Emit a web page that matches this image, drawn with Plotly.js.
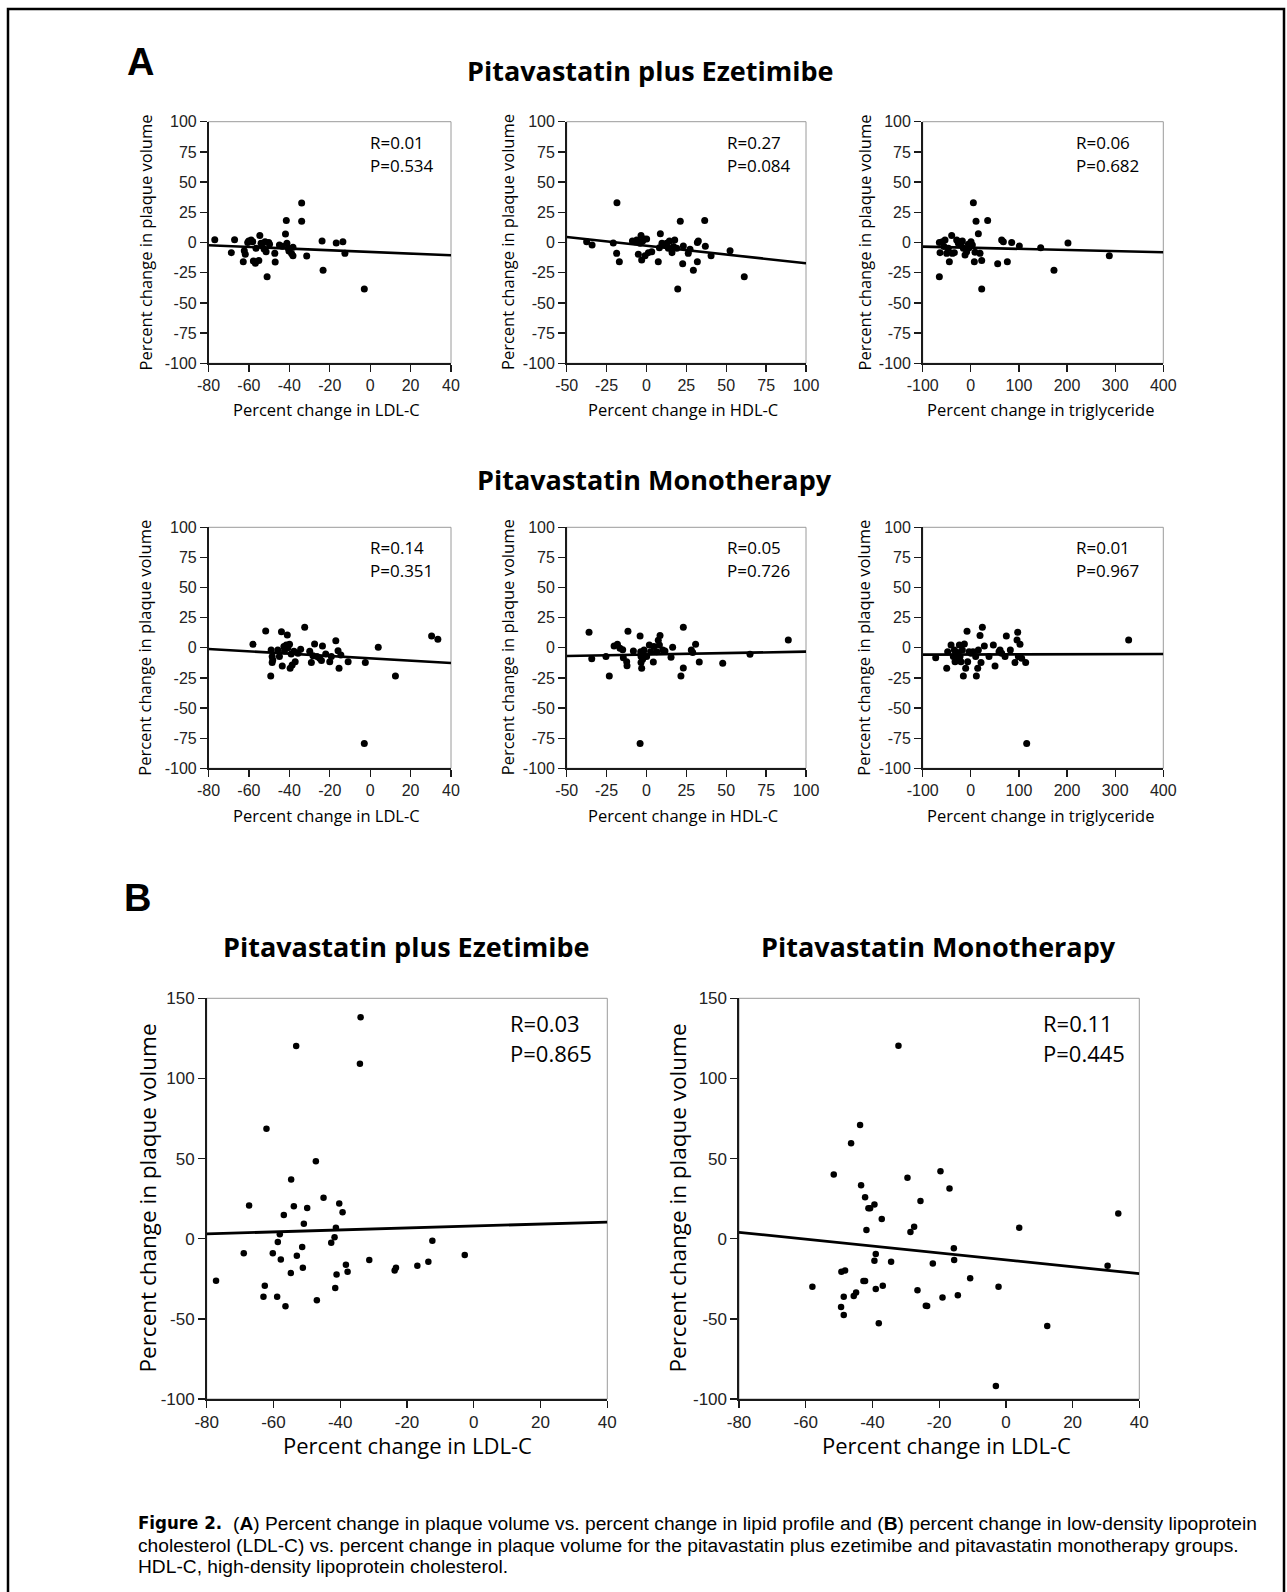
<!DOCTYPE html>
<html>
<head>
<meta charset="utf-8">
<script src="https://cdn.plot.ly/plotly-3.0.1.min.js"></script>
<style>html,body{margin:0;padding:0;background:#fff;}#chart{width:1287px;height:1592px;}</style>
</head>
<body>
<div id="chart"></div>
<script>
// ---------------- DATA ----------------
// Panel A, Pitavastatin plus Ezetimibe
const ezeLdlX = [-76.9,-68.7,-67.1,-62.8,-62.3,-61.8,-60.6,-60.1,-58.9,-58.1,-57.8,-56.8,-56.5,-55.1,-54.6,-54.0,-53.5,-52.5,-52.0,-51.5,-51.0,-50.2,-49.8,-47.2,-47.0,-44.9,-43.5,-41.9,-41.5,-41.2,-40.5,-40.2,-38.9,-38.2,-38.2,-33.9,-33.9,-31.4,-23.8,-23.3,-16.8,-13.5,-12.5,-2.9];
const ezeLdlY = [2.3,-8.4,2.3,-15.9,-6.8,-9.8,-0.1,1.2,2.1,0.7,-15.3,-17.2,-4.8,-14.8,5.7,-0.7,-2.6,-5.4,0.7,-7.6,-28.3,0.1,-1.5,-9.0,-16.1,-2.1,-3.2,7.0,18.3,-0.7,-4.8,-7.0,-9.2,-4.0,-10.9,32.7,17.5,-11.2,1.2,-23.0,-0.4,0.7,-9.0,-38.5];
const ezeLdlFitX = [-80, 40];
const ezeLdlFitY = [-2.3, -10.6];

const ezeHdlX = [-37.5,-34.1,-20.8,-18.5,-18.7,-17.0,-8.8,-7.2,-6.1,-5.1,-4.0,-3.4,-3.0,-2.4,-1.5,-0.9,0.1,1.2,3.3,7.4,8.1,8.7,9.7,11.0,12.7,13.7,14.4,16.0,16.9,17.7,19.0,19.6,21.2,22.7,23.1,26.2,27.3,29.4,31.9,31.9,32.5,36.5,36.9,40.5,52.4,61.3];
const ezeHdlY = [0.7,-2.1,-0.4,33.0,-9.0,-15.9,1.2,0.7,2.1,-9.8,-0.7,5.7,-14.5,1.2,2.8,-10.9,2.8,-8.4,-7.6,-15.9,-4.3,7.3,-0.7,-1.5,-0.7,-4.8,1.2,-8.4,-3.4,2.1,-4.8,-38.5,17.5,-17.5,-2.9,-9.0,-5.5,-23.0,0.1,-15.9,1.2,18.3,-3.2,-10.9,-6.8,-28.3];
const ezeHdlFitX = [-50, 100];
const ezeHdlFitY = [4.6, -17.2];

const ezeTgX = [-65.4,-65.4,-64.0,-59.1,-55.7,-53.6,-50.1,-46.7,-44.6,-39.8,-38.4,-34.2,-29.4,-25.9,-22.4,-20.4,-17.6,-15.5,-12.0,-8.6,-5.1,-3.7,0.4,3.2,5.3,7.3,8.7,10.8,15.7,19.1,22.6,22.6,35.0,55.8,64.1,67.6,75.9,84.9,100.8,145.2,172.8,201.9,287.8];
const ezeTgY = [-28.3,0.1,-8.4,0.7,-3.4,2.1,-9.0,-4.8,-15.9,5.7,-9.0,-8.4,2.1,-0.7,0.7,-2.1,1.2,-4.8,-10.3,-7.6,-1.5,-4.3,0.7,-2.1,33.0,-15.9,-8.1,17.5,7.3,-9.0,-14.8,-38.5,18.3,-17.5,2.1,0.7,-15.9,0.1,-2.9,-4.3,-23.0,-0.4,-10.9];
const ezeTgFitX = [-100, 400];
const ezeTgFitY = [-3.4, -8.1];

// Panel A, Pitavastatin Monotherapy
const monoLdlX = [-58.0,-51.7,-49.2,-49.0,-48.5,-48.5,-48.2,-45.7,-44.9,-43.9,-43.5,-42.7,-42.4,-41.5,-41.0,-40.7,-39.9,-39.6,-39.1,-38.6,-37.7,-37.1,-35.7,-34.4,-32.4,-29.9,-29.1,-28.3,-27.5,-26.3,-25.0,-24.1,-23.6,-22.0,-20.0,-19.2,-17.0,-15.9,-15.4,-14.5,-10.9,-2.4,-2.9,4.0,12.5,30.4,33.5];
const monoLdlY = [2.9,13.9,-23.4,-1.8,-7.3,-12.3,-10.1,-1.8,-7.3,13.3,-15.1,1.0,-2.6,2.4,10.6,0.1,2.9,-17.0,-5.1,-14.2,-2.9,-11.5,-4.6,-1.2,17.0,-2.9,-12.3,-6.5,3.2,-7.3,-8.7,-10.6,1.5,-5.1,-11.5,-7.3,5.8,-2.4,-17.0,-6.0,-11.5,-12.3,-79.5,0.4,-23.4,9.8,7.1];
const monoLdlFitX = [-80, 40];
const monoLdlFitY = [-1.0, -12.6];

const monoHdlX = [-36.0,-34.3,-25.4,-23.3,-20.3,-18.2,-16.6,-14.9,-14.5,-12.4,-12.2,-11.6,-8.2,-4.0,-3.6,-3.4,-3.4,-3.0,-2.4,-2.0,-1.5,-4.0,0.1,1.8,2.6,4.3,4.7,6.4,7.4,8.1,8.5,10.2,11.6,15.4,16.4,21.6,23.1,23.1,28.1,29.0,30.8,33.1,47.8,64.9,88.9];
const monoHdlY = [12.9,-9.0,-7.3,-23.4,1.5,2.9,-0.3,-1.7,-8.2,-11.5,-14.8,13.7,-2.6,9.8,-3.2,-7.3,-12.3,-17.0,-9.5,-5.1,-1.8,-79.5,-7.3,2.4,-3.2,-11.8,1.0,-3.2,6.3,2.4,10.3,-1.8,-2.6,-7.9,0.4,-23.4,17.0,-16.7,-1.8,-4.0,2.9,-11.8,-12.9,-5.4,6.5];
const monoHdlFitX = [-50, 100];
const monoHdlFitY = [-6.8, -3.2];

const monoTgX = [-73.0,-50.1,-48.1,-41.1,-36.3,-34.2,-32.8,-29.4,-27.3,-23.8,-22.4,-20.4,-17.6,-15.5,-13.4,-10.7,-7.9,-6.5,-3.7,0.4,4.6,10.1,11.5,14.3,15.7,19.1,21.2,24.0,28.1,37.8,46.8,50.3,58.6,60.7,64.1,71.1,73.8,82.1,91.8,96.0,97.4,98.8,102.2,105.7,114.0,116.1,328.0];
const monoTgY = [-8.2,-17.0,-3.2,2.4,-7.3,-1.8,-11.5,-8.7,-4.0,2.4,-7.3,-11.5,-1.8,-23.4,3.2,-17.0,13.7,-11.5,-3.2,-4.6,-3.2,-7.3,-23.4,-17.0,-1.8,10.3,-12.3,17.0,1.5,-7.3,2.4,-15.1,-3.2,-1.8,-4.6,-7.3,9.8,-1.8,-12.3,6.5,12.9,-7.3,2.9,-8.7,-12.3,-79.5,6.5];
const monoTgFitX = [-100, 400];
const monoTgFitY = [-5.7, -5.1];

// Panel B
const bEzeX = [-77.2,-68.9,-67.3,-63.0,-62.6,-62.1,-60.2,-58.9,-58.7,-58.1,-57.8,-56.9,-56.4,-54.8,-54.7,-53.9,-53.2,-53.0,-51.4,-51.2,-50.9,-49.9,-47.3,-47.0,-45.0,-42.7,-41.7,-41.5,-41.3,-41.1,-40.3,-39.3,-38.3,-37.8,-34.1,-33.9,-31.3,-23.7,-23.3,-16.9,-13.6,-12.4,-2.7];
const bEzeY = [-26.2,-9.1,20.8,-36.2,-29.3,68.6,-9.1,-36.2,-2.0,2.8,-12.9,14.8,-42.2,-21.4,37.0,20.2,120.2,-10.6,-5.2,-18.1,9.3,19.1,48.4,-38.4,25.6,-2.5,0.9,-30.7,6.9,-22.4,21.9,16.5,-16.2,-20.6,109.2,138.1,-13.3,-19.9,-18.1,-16.8,-14.3,-1.2,-10.2];
const bEzeFitX = [-80, 40];
const bEzeFitY = [3.0, 10.4];

const bMonoX = [-58.0,-51.6,-49.3,-49.4,-48.6,-48.6,-48.2,-46.4,-45.6,-44.9,-43.7,-43.4,-42.7,-42.2,-42.2,-41.8,-41.2,-40.7,-39.4,-39.4,-39.0,-39.0,-38.1,-37.2,-36.9,-34.4,-32.2,-29.5,-28.6,-27.5,-26.5,-25.6,-24.0,-23.6,-21.9,-19.6,-19.0,-16.9,-15.6,-15.5,-14.4,-10.7,-3.0,-2.2,4.0,12.4,30.5,33.7];
const bMonoY = [-29.9,40.0,-20.6,-42.6,-36.2,-47.6,-19.9,59.5,-35.7,-33.6,70.9,33.3,-26.4,25.8,-26.4,5.4,19.0,19.0,21.4,-13.7,-9.5,-31.4,-52.8,12.3,-29.3,-14.3,120.4,38.1,4.2,7.5,-32.2,23.5,-41.8,-42.0,-15.4,42.1,-36.6,31.3,-6.0,-13.3,-35.3,-24.7,-91.9,-29.9,6.9,-54.5,-16.8,15.7];
const bMonoFitX = [-80, 40];
const bMonoFitY = [4.0, -21.8];

// Tick labels
const ldlTicks = [-80,-60,-40,-20,0,20,40];
const hdlTicks = [-50,-25,0,25,50,75,100];
const tgTicks = [-100,0,100,200,300,400];
const aYTicks = [-100,-75,-50,-25,0,25,50,75,100];
const bYTicks = [-100,-50,0,50,100,150];
const lbl = arr => arr.map(v => String(v)); // hyphen-minus like the original

// Text
const statsA = [["R=0.01","P=0.534"],["R=0.27","P=0.084"],["R=0.06","P=0.682"],["R=0.14","P=0.351"],["R=0.05","P=0.726"],["R=0.01","P=0.967"]];
const statsB = [["R=0.03","P=0.865"],["R=0.11","P=0.445"]];
const groupTitles = ["Pitavastatin plus Ezetimibe", "Pitavastatin Monotherapy"];
const yTitle = "Percent change in plaque volume";
const xTitlesA = ["Percent change in LDL-C","Percent change in HDL-C","Percent change in triglyceride"];
const captionLines = [
  "<b>Figure 2.</b>",
  "(<b>A</b>) Percent change in plaque volume vs. percent change in lipid profile and (<b>B</b>) percent change in low-density lipoprotein",
  "cholesterol (LDL-C) vs. percent change in plaque volume for the pitavastatin plus ezetimibe and pitavastatin monotherapy groups.",
  "HDL-C, high-density lipoprotein cholesterol."
];

// ---------------- LAYOUT ----------------
const W = 1287, H = 1592;
const px = v => v / W;
const py = v => 1 - v / H;

const TICKFONT = "Liberation Sans, Arial, sans-serif";
const TEXTFONT = "Open Sans, Noto Sans, sans-serif";

// panel geometry (pixels): left, right, top, bottom
const panels = [
  {l:208.5, r:451, t:121.7, b:363.3, xr:[-80,40], xt:ldlTicks, yr:[-100,100], yt:aYTicks, x:ezeLdlX, y:ezeLdlY, fx:ezeLdlFitX, fy:ezeLdlFitY, big:false},
  {l:566.7, r:806, t:121.7, b:363.3, xr:[-50,100], xt:hdlTicks, yr:[-100,100], yt:aYTicks, x:ezeHdlX, y:ezeHdlY, fx:ezeHdlFitX, fy:ezeHdlFitY, big:false},
  {l:922.7, r:1163.3, t:121.7, b:363.3, xr:[-100,400], xt:tgTicks, yr:[-100,100], yt:aYTicks, x:ezeTgX, y:ezeTgY, fx:ezeTgFitX, fy:ezeTgFitY, big:false},
  {l:208.5, r:451, t:527.3, b:768.3, xr:[-80,40], xt:ldlTicks, yr:[-100,100], yt:aYTicks, x:monoLdlX, y:monoLdlY, fx:monoLdlFitX, fy:monoLdlFitY, big:false},
  {l:566.7, r:806, t:527.3, b:768.3, xr:[-50,100], xt:hdlTicks, yr:[-100,100], yt:aYTicks, x:monoHdlX, y:monoHdlY, fx:monoHdlFitX, fy:monoHdlFitY, big:false},
  {l:922.7, r:1163.3, t:527.3, b:768.3, xr:[-100,400], xt:tgTicks, yr:[-100,100], yt:aYTicks, x:monoTgX, y:monoTgY, fx:monoTgFitX, fy:monoTgFitY, big:false},
  {l:206.7, r:607.3, t:998.3, b:1399, xr:[-80,40], xt:ldlTicks, yr:[-100,150], yt:bYTicks, x:bEzeX, y:bEzeY, fx:bEzeFitX, fy:bEzeFitY, big:true},
  {l:739, r:1139.3, t:998.3, b:1399, xr:[-80,40], xt:ldlTicks, yr:[-100,150], yt:bYTicks, x:bMonoX, y:bMonoY, fx:bMonoFitX, fy:bMonoFitY, big:true}
];

const traces = [];
const layout = {
  width: W, height: H,
  margin: {l:0, r:0, t:0, b:0},
  paper_bgcolor: "#fff", plot_bgcolor: "rgba(0,0,0,0)",
  showlegend: false,
  shapes: [], annotations: []
};

panels.forEach((p, i) => {
  const n = i + 1;
  const xa = n === 1 ? "x" : "x" + n;
  const ya = n === 1 ? "y" : "y" + n;
  const xk = n === 1 ? "xaxis" : "xaxis" + n;
  const yk = n === 1 ? "yaxis" : "yaxis" + n;
  const common = {
    showgrid:false, zeroline:false, showline:true, linecolor:"#1a1a1a", linewidth:1.6,
    ticks:"outside", ticklen:7, tickwidth:1.3, tickcolor:"#1a1a1a",
    tickfont:{family:TICKFONT, size: p.big ? 17 : 16, color:"#222"},
    fixedrange:true
  };
  layout[xk] = Object.assign({}, common, {
    domain:[px(p.l), px(p.r)], range:p.xr, anchor:ya,
    tickmode:"array", tickvals:p.xt, ticktext:lbl(p.xt)
  });
  layout[yk] = Object.assign({}, common, {
    domain:[py(p.b), py(p.t)], range:p.yr, anchor:xa,
    tickmode:"array", tickvals:p.yt, ticktext:lbl(p.yt)
  });
  // thin grey frame on top/right
  layout.shapes.push({type:"rect", xref:xa+" domain", yref:ya+" domain", x0:0, x1:1, y0:0, y1:1,
    line:{color:"#9a9a9a", width:1}, layer:"below"});
  traces.push({type:"scatter", mode:"lines", x:p.fx, y:p.fy, xaxis:xa, yaxis:ya,
    line:{color:"#000", width: p.big ? 2.8 : 2.6}, hoverinfo:"skip", cliponaxis:true});
  traces.push({type:"scatter", mode:"markers", x:p.x, y:p.y, xaxis:xa, yaxis:ya,
    marker:{color:"#000", size: p.big ? 6.5 : 7}, cliponaxis:false});
});

const ann = (x, y, text, size, opts) => Object.assign({
  xref:"paper", yref:"paper", x:px(x), y:py(y), text:text, showarrow:false,
  xanchor:"center", yanchor:"middle",
  font:{family:TEXTFONT, size:size, color:"#000"}
}, opts || {});

// Panel letters and group titles
layout.annotations.push(ann(140.5, 62, "<b>A</b>", 38, {font:{family:"Liberation Sans, Arial", size:38, color:"#000"}}));
layout.annotations.push(ann(137.5, 898, "<b>B</b>", 38, {font:{family:"Liberation Sans, Arial", size:38, color:"#000"}}));
layout.annotations.push(ann(650.6, 71, "<b>" + groupTitles[0] + "</b>", 27));
layout.annotations.push(ann(654.7, 479, "<b>" + groupTitles[1] + "</b>", 27));
layout.annotations.push(ann(406, 946, "<b>" + groupTitles[0] + "</b>", 27));
layout.annotations.push(ann(938, 946, "<b>" + groupTitles[1] + "</b>", 27));

// Axis titles (A)
const aYTitleX = [145, 507.5, 864];
const aRowCenters = [242.5, 647.8];
const aXTitleY = [410, 815];
const aColCenters = [329.8, 686.3, 1043];
for (let r = 0; r < 2; r++) {
  for (let c = 0; c < 3; c++) {
    layout.annotations.push(ann(aYTitleX[c], aRowCenters[r], yTitle, 16.5, {textangle:-90}));
    layout.annotations.push(ann(aColCenters[c] - 3, aXTitleY[r], xTitlesA[c], 16.5));
  }
}
// R/P labels (A)
const statX = [368, 725, 1074];
const statY = [[142.7, 165], [547.7, 570]];
for (let r = 0; r < 2; r++) {
  for (let c = 0; c < 3; c++) {
    const s = statsA[r * 3 + c];
    layout.annotations.push(ann(statX[c], statY[r][0], s[0], 17, {xanchor:"left"}));
    layout.annotations.push(ann(statX[c], statY[r][1], s[1], 17, {xanchor:"left"}));
  }
}
// B axis titles and stats
const bYTitleX = [147, 677];
const bXTitleX = [407.5, 946];
for (let c = 0; c < 2; c++) {
  layout.annotations.push(ann(bYTitleX[c], 1198.5, yTitle, 22.5, {textangle:-90}));
  layout.annotations.push(ann(bXTitleX[c], 1445, xTitlesA[0], 22));
}
const bStatX = [508, 1041];
for (let c = 0; c < 2; c++) {
  layout.annotations.push(ann(bStatX[c], 1022.7, statsB[c][0], 22, {xanchor:"left"}));
  layout.annotations.push(ann(bStatX[c], 1053.3, statsB[c][1], 22, {xanchor:"left"}));
}

// Caption
const CAPFONT = "Liberation Sans, Arial, sans-serif";
layout.annotations.push(ann(136, 1522, captionLines[0], 18.5, {xanchor:"left",
  font:{family:"Liberation Sans Narrow, DejaVu Sans Condensed, Liberation Sans", size:18.5, color:"#000"}}));
layout.annotations.push(ann(231, 1523, captionLines[1], 19.2, {xanchor:"left", font:{family:CAPFONT, size:19.2, color:"#000"}}));
layout.annotations.push(ann(136, 1545, captionLines[2], 19.2, {xanchor:"left", font:{family:CAPFONT, size:19.2, color:"#000"}}));
layout.annotations.push(ann(136, 1566, captionLines[3], 19.2, {xanchor:"left", font:{family:CAPFONT, size:19.2, color:"#000"}}));

// Outer frame
layout.shapes.push({type:"rect", xref:"paper", yref:"paper", x0:px(8), x1:px(1284), y0:py(1640), y1:py(9),
  line:{color:"#000", width:2.5}, layer:"above"});

Plotly.newPlot("chart", traces, layout, {displayModeBar:false, staticPlot:true});
</script>
</body>
</html>
